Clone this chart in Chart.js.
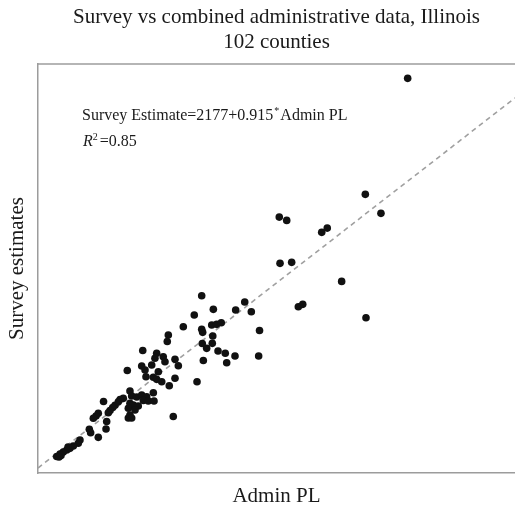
<!DOCTYPE html>
<html>
<head>
<meta charset="utf-8">
<script src="https://cdn.jsdelivr.net/npm/chart.js@4/dist/chart.umd.min.js"></script>
<style>
  html, body { margin: 0; padding: 0; background: #fff; }
  #wrap { width: 515px; height: 505px; }
</style>
</head>
<body>
<div id="wrap"><canvas id="scatterChart"></canvas></div>
<script>
// Admin PL (x) and survey estimate (y) for each of the 102 counties
const adminPL = [38750, 34310, 35950, 25290, 26070, 29740, 30320, 25370, 26590, 31830,
  27290, 27750, 34380, 20720, 21670, 22360, 23220, 17160, 18380, 16380,
  15230, 18210, 18730, 19210, 17160, 17260, 18320, 18270, 17220, 17680,
  18870, 19630, 20650, 23130, 17330, 19780, 16670, 13660, 13550, 10980,
  12440, 12260, 13130, 13310, 14360, 9360, 10870, 11220, 11920, 12610,
  14710, 11320, 12090, 12440, 14360, 12970, 13760, 12090, 9640, 9820,
  10350, 10870, 11390, 8940, 8600, 11040, 11560, 12160, 9640, 9990,
  10510, 8070, 7830, 9470, 10170, 9640, 9470, 9820, 14180, 6870,
  7550, 7370, 6320, 6080, 5800, 7200, 7130, 5380, 5520, 6320,
  4400, 4220, 3700, 3350, 3010, 2650, 2310, 1960, 2410, 2200,
  3150, 8420];
const surveyEst = [50350, 36010, 33660, 33200, 32790, 31310, 31840, 27480, 27600, 25250,
  22120, 22410, 20760, 21710, 22700, 21500, 19170, 23470, 21790, 21090,
  19640, 19850, 19940, 20140, 19320, 18950, 18490, 17590, 17570, 16970,
  16640, 16360, 16020, 16020, 15470, 15190, 12850, 18620, 17810, 16700,
  16360, 15740, 15940, 15320, 15610, 14230, 14790, 14290, 14910, 14080,
  14820, 13460, 13390, 13140, 13270, 12850, 12350, 11490, 11700, 11080,
  10950, 11200, 10990, 10790, 10650, 10520, 10460, 10460, 10180, 9970,
  9840, 9930, 9660, 9560, 9350, 8730, 8360, 8360, 8540, 10400,
  9290, 9010, 8940, 8610, 8320, 7930, 7000, 6960, 6540, 5970,
  5640, 5230, 4900, 4610, 4400, 4160, 3910, 3600, 3720, 3540,
  4770, 10370];

// fitted line: Survey = intercept + slope * Admin PL
const intercept = 2177;
const slope = 0.915;
const rSquared = 0.85;
const fitX = [0, 50000];

const serif = '"Liberation Serif", "Times New Roman", serif';
const edgeColor = '#9c9c9c';

const points = adminPL.map((x, i) => ({ x, y: surveyEst[i] }));
const fitLine = fitX.map(x => ({ x, y: intercept + slope * x }));

// top frame line + regression annotation
const framePlugin = {
  id: 'frame',
  afterDraw(chart) {
    const { ctx, chartArea: a } = chart;
    ctx.save();
    ctx.strokeStyle = edgeColor;
    ctx.lineWidth = 1.5;
    ctx.beginPath();
    ctx.moveTo(a.left, a.top);
    ctx.lineTo(a.right, a.top);
    ctx.stroke();

    ctx.fillStyle = '#1a1a1a';
    ctx.textBaseline = 'alphabetic';
    let x = a.left + 44;
    let y = a.top + 56;
    ctx.font = '16px ' + serif;
    const first = 'Survey Estimate=' + intercept + '+' + slope;
    ctx.fillText(first, x, y);
    x += ctx.measureText(first).width + 1;
    ctx.font = '10px ' + serif;
    ctx.fillText('*', x, y - 6);
    x += ctx.measureText('*').width + 1;
    ctx.font = '16px ' + serif;
    ctx.fillText('Admin PL', x, y);

    x = a.left + 45;
    y = a.top + 82;
    ctx.font = 'italic 16px ' + serif;
    ctx.fillText('R', x, y);
    x += ctx.measureText('R').width;
    ctx.font = '10px ' + serif;
    ctx.fillText('2', x, y - 6);
    x += ctx.measureText('2').width + 2;
    ctx.font = '16px ' + serif;
    ctx.fillText('=' + rSquared.toFixed(2), x, y);
    ctx.restore();
  }
};

new Chart(document.getElementById('scatterChart'), {
  type: 'scatter',
  data: {
    datasets: [
      {
        label: 'Counties',
        data: points,
        pointRadius: 3.8,
        pointBackgroundColor: '#111',
        pointBorderWidth: 0
      },
      {
        type: 'line',
        label: 'Fit',
        data: fitLine,
        borderColor: '#a0a0a0',
        borderWidth: 1.6,
        borderDash: [5, 4],
        pointRadius: 0,
        fill: false
      }
    ]
  },
  options: {
    responsive: true,
    maintainAspectRatio: false,
    animation: false,
    layout: { padding: 0, autoPadding: false },
    plugins: {
      legend: { display: false },
      tooltip: { enabled: false },
      title: {
        display: true,
        fullSize: false,
        text: ['Survey vs combined administrative data, Illinois', '102 counties'],
        color: '#1a1a1a',
        font: { family: serif, size: 21, weight: 'normal', lineHeight: 1.17 },
        padding: { top: 5.3, bottom: 9.6 }
      }
    },
    scales: {
      x: {
        type: 'linear',
        min: 0,
        max: 50000,
        ticks: { display: false },
        grid: { display: false, drawTicks: false },
        border: { display: true, color: edgeColor, width: 1.5 },
        title: {
          display: true,
          text: 'Admin PL',
          color: '#1a1a1a',
          font: { family: serif, size: 21, weight: 'normal', lineHeight: 0.8 },
          padding: { top: 15.2, bottom: 0 }
        }
      },
      y: {
        type: 'linear',
        min: 1560,
        max: 52120,
        ticks: { display: false },
        grid: { display: false, drawTicks: false },
        border: { display: true, color: edgeColor, width: 1.5 },
        title: {
          display: true,
          text: 'Survey estimates',
          color: '#1a1a1a',
          font: { family: serif, size: 21, weight: 'normal', lineHeight: 1.2 },
          padding: { top: 4.4, bottom: 8.4 }
        }
      }
    }
  },
  plugins: [framePlugin]
});
</script>
</body>
</html>
